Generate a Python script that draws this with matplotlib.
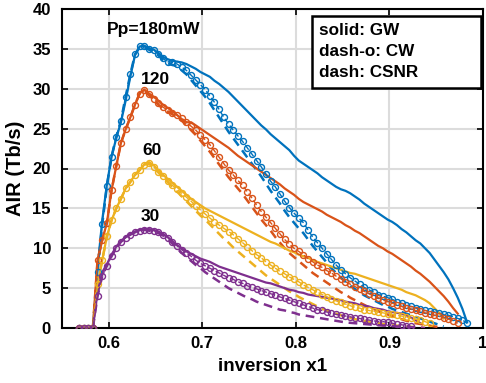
import numpy as np
import matplotlib
matplotlib.use("Agg")
import matplotlib.pyplot as plt
from matplotlib.patches import Rectangle

# common inversion grid (step 0.005)
x_start, x_step = 0.568, 0.005

gw_180 = [0, 0, 0, 0, 7.5, 13.5, 18.0, 21.5, 23.8, 25.8, 28.5, 31.5, 34.2, 35.3, 35.4, 35.1,
          34.9, 34.5, 34.0, 33.7, 33.5, 33.4, 33.3, 33.1, 32.8, 32.5, 32.1, 31.8, 31.5, 31.0,
          30.6, 30.1, 29.6, 29.0, 28.4, 27.8, 27.2, 26.6, 26.0, 25.4, 24.9, 24.3, 23.8, 23.3,
          22.8, 22.3, 21.6, 21.0, 20.6, 20.2, 19.8, 19.4, 18.9, 18.5, 18.1, 17.7, 17.4, 17.2,
          16.9, 16.5, 16.1, 15.6, 15.2, 14.8, 14.4, 14.0, 13.6, 13.3, 12.9, 12.4, 12.0, 11.5,
          11.0, 10.6, 10.0, 9.4, 8.6, 7.8, 7.0, 6.1, 5.0, 3.8, 2.4, 0.7]
cw_180 = [0, 0, 0, 0, 7.0, 13.0, 17.8, 21.5, 24.0, 26.0, 29.0, 31.8, 34.3, 35.3, 35.3, 35.0,
          34.8, 34.4, 33.8, 33.4, 33.3, 33.1, 32.7, 32.3, 31.7, 31.1, 30.5, 29.9, 29.1, 28.3,
          27.4, 26.4, 25.6, 24.8, 24.1, 23.4, 22.6, 21.8, 21.0, 20.2, 19.3, 18.4, 17.7, 16.8,
          15.9, 15.1, 14.4, 13.8, 13.2, 12.3, 11.4, 10.7, 10.0, 9.3, 8.6, 7.9, 7.3, 6.8,
          6.3, 5.9, 5.5, 5.1, 4.8, 4.5, 4.2, 4.0, 3.8, 3.6, 3.3, 3.1, 2.9, 2.7,
          2.5, 2.4, 2.2, 2.1, 2.0, 1.9, 1.7, 1.6, 1.4, 1.2, 1.0, 0.6]
csnr_180 = [0, 0, 0, 0, 7.0, 13.0, 17.8, 21.5, 24.0, 26.0, 29.0, 31.8, 34.3, 35.2, 35.2, 34.9,
            34.6, 34.2, 33.6, 33.2, 33.0, 32.8, 32.3, 31.8, 31.1, 30.4, 29.7, 29.0, 28.2, 27.3,
            26.4, 25.5, 24.6, 23.8, 23.0, 22.2, 21.4, 20.6, 19.8, 19.0, 18.1, 17.2, 16.4, 15.6,
            14.7, 13.9, 13.2, 12.5, 11.9, 11.1, 10.3, 9.6, 8.9, 8.2, 7.5, 6.9, 6.3, 5.8,
            5.3, 4.9, 4.5, 4.1, 3.8, 3.5, 3.2, 2.9, 2.7, 2.4, 2.2, 2.0, 1.8, 1.6,
            1.4, 1.2, 1.0, 0.8, 0.6, 0.4, 0.2]

gw_120 = [0, 0, 0, 0, 8.5, 11.0, 13.2, 17.3, 20.3, 23.2, 24.9, 26.4, 28.0, 29.4, 29.9, 29.4,
          29.0, 28.5, 28.0, 27.6, 27.2, 26.7, 26.2, 25.8, 25.8, 25.4, 25.0, 24.6, 24.2, 23.8,
          23.4, 23.0, 22.6, 22.1, 21.6, 21.2, 20.8, 20.4, 20.0, 19.6, 19.2, 18.8, 18.4, 18.0,
          17.5, 17.1, 16.7, 16.2, 15.8, 15.5, 15.2, 14.9, 14.6, 14.2, 13.9, 13.6, 13.3, 12.9,
          12.6, 12.2, 11.9, 11.5, 11.1, 10.7, 10.3, 10.0, 9.6, 9.3, 8.9, 8.5, 8.1, 7.7,
          7.2, 6.8, 6.3, 5.8, 5.2, 4.6, 4.0, 3.3, 2.5, 1.8]
cw_120 = [0, 0, 0, 0, 8.5, 11.0, 13.2, 17.3, 20.3, 23.2, 24.9, 26.4, 28.0, 29.4, 29.8, 29.3,
          28.7, 28.2, 27.7, 27.3, 27.0, 26.7, 26.3, 25.8, 25.3, 24.8, 24.2, 23.6, 23.0, 22.2,
          21.4, 20.6, 19.8, 19.2, 18.5, 17.9, 17.1, 16.3, 15.4, 14.6, 13.9, 13.2, 12.5, 11.8,
          11.1, 10.5, 10.0, 9.6, 9.2, 8.7, 8.3, 7.9, 7.6, 7.2, 6.9, 6.5, 6.2, 5.8,
          5.5, 5.2, 4.9, 4.6, 4.3, 4.0, 3.8, 3.5, 3.3, 3.1, 2.9, 2.7, 2.5, 2.4,
          2.2, 2.1, 1.9, 1.8, 1.6, 1.5, 1.3, 1.1, 0.9, 0.6]
csnr_120 = [0, 0, 0, 0, 8.5, 11.0, 13.2, 17.3, 20.3, 23.2, 24.9, 26.4, 28.0, 29.4, 29.7, 29.2,
            28.6, 28.0, 27.5, 27.1, 26.8, 26.4, 26.0, 25.4, 24.8, 24.2, 23.5, 22.8, 22.1, 21.3,
            20.5, 19.7, 18.9, 18.2, 17.5, 16.8, 16.0, 15.2, 14.4, 13.6, 12.9, 12.2, 11.4, 10.7,
            10.0, 9.4, 8.9, 8.4, 7.9, 7.4, 6.9, 6.5, 6.1, 5.7, 5.3, 4.9, 4.5, 4.2,
            3.8, 3.5, 3.2, 2.9, 2.6, 2.4, 2.1, 1.9, 1.7, 1.5, 1.3, 1.1, 0.9, 0.8,
            0.6, 0.5, 0.4, 0.3, 0.2, 0.1]

gw_60 = [0, 0, 0, 0, 5.5, 8.5, 11.5, 13.5, 15.0, 16.2, 17.5, 18.3, 19.2, 19.8, 20.5, 20.8,
         20.4, 19.8, 19.2, 18.7, 18.2, 17.7, 17.2, 16.7, 16.2, 15.8, 15.4, 15.0, 14.7, 14.4,
         14.1, 13.8, 13.5, 13.2, 12.9, 12.6, 12.3, 12.0, 11.7, 11.4, 11.1, 10.8, 10.6, 10.3,
         10.0, 9.7, 9.5, 9.2, 9.0, 8.8, 8.5, 8.3, 8.1, 7.9, 7.7, 7.5, 7.3, 7.1,
         6.9, 6.8, 6.6, 6.4, 6.2, 6.0, 5.8, 5.6, 5.4, 5.2, 5.0, 4.8, 4.5, 4.3,
         4.1, 3.8, 3.5, 3.1, 2.5, 1.9, 1.2]
cw_60 = [0, 0, 0, 0, 5.5, 8.5, 11.5, 13.5, 15.0, 16.2, 17.5, 18.3, 19.2, 19.8, 20.5, 20.7,
         20.2, 19.6, 19.0, 18.4, 17.9, 17.4, 16.9, 16.4, 15.9, 15.3, 14.8, 14.3, 13.8, 13.3,
         12.9, 12.5, 12.1, 11.7, 11.2, 10.7, 10.2, 9.7, 9.2, 8.8, 8.3, 7.9, 7.5, 7.1,
         6.8, 6.4, 6.1, 5.8, 5.4, 5.1, 4.8, 4.5, 4.2, 3.9, 3.6, 3.4, 3.2, 3.0,
         2.8, 2.6, 2.5, 2.3, 2.2, 2.1, 2.0, 1.9, 1.8, 1.7, 1.6, 1.5, 1.4, 1.2,
         1.1, 1.0, 0.8, 0.6]
csnr_60 = [0, 0, 0, 0, 5.5, 8.5, 11.5, 13.5, 15.0, 16.2, 17.5, 18.3, 19.2, 19.8, 20.5, 20.6,
           20.1, 19.5, 18.9, 18.3, 17.7, 17.1, 16.5, 15.9, 15.3, 14.7, 14.1, 13.6, 13.0, 12.4,
           11.8, 11.2, 10.7, 10.1, 9.6, 9.1, 8.6, 8.1, 7.6, 7.1, 6.6, 6.2, 5.8, 5.4,
           5.0, 4.6, 4.3, 3.9, 3.6, 3.3, 3.0, 2.7, 2.4, 2.2, 2.0, 1.8, 1.6, 1.4,
           1.3, 1.1, 1.0, 0.9, 0.8, 0.7, 0.6, 0.5, 0.4, 0.35, 0.3, 0.25, 0.2, 0.15,
           0.1, 0.05, 0.0]

gw_30 = [0, 0, 0, 0, 4.5, 7.0, 8.0, 9.2, 10.2, 10.9, 11.4, 11.8, 12.1, 12.3, 12.4, 12.4,
         12.3, 12.1, 11.8, 11.4, 10.9, 10.4, 10.0, 9.6, 9.3, 9.0, 8.7, 8.5, 8.3, 8.0,
         7.7, 7.5, 7.3, 7.1, 6.9, 6.7, 6.5, 6.3, 6.1, 5.9, 5.7, 5.6, 5.4, 5.2,
         5.0, 4.8, 4.7, 4.5, 4.4, 4.2, 4.1, 4.0, 3.9, 3.8, 3.7, 3.6, 3.5, 3.3,
         3.2, 3.1, 2.9, 2.8, 2.7, 2.5, 2.4, 2.3, 2.1, 2.0, 1.9, 1.8, 1.6, 1.3,
         1.0, 0.6]
cw_30 = [0, 0, 0, 0, 4.0, 6.5, 7.8, 9.0, 10.0, 10.8, 11.3, 11.7, 12.0, 12.2, 12.3, 12.3,
         12.2, 12.0, 11.7, 11.3, 10.8, 10.3, 9.8, 9.4, 9.0, 8.5, 8.1, 7.8, 7.5, 7.2,
         6.9, 6.6, 6.3, 6.1, 5.8, 5.6, 5.3, 5.1, 4.9, 4.7, 4.5, 4.3, 4.1, 3.9,
         3.7, 3.5, 3.3, 3.1, 2.9, 2.7, 2.5, 2.3, 2.2, 2.0, 1.9, 1.7, 1.6, 1.5,
         1.4, 1.3, 1.2, 1.1, 1.0, 0.9, 0.8, 0.8, 0.7, 0.6, 0.5, 0.4, 0.3, 0.2]
csnr_30 = [0, 0, 0, 0, 4.0, 6.5, 7.8, 9.0, 10.0, 10.8, 11.3, 11.7, 12.0, 12.2, 12.3, 12.2,
           12.1, 11.9, 11.6, 11.1, 10.6, 10.0, 9.4, 8.9, 8.4, 7.9, 7.5, 7.0, 6.6, 6.2,
           5.8, 5.4, 5.0, 4.7, 4.4, 4.1, 3.8, 3.6, 3.3, 3.1, 2.9, 2.7, 2.5, 2.3,
           2.2, 2.0, 1.9, 1.7, 1.6, 1.5, 1.4, 1.3, 1.2, 1.1, 1.0, 0.9, 0.8, 0.7,
           0.65, 0.6, 0.55, 0.5, 0.45, 0.4, 0.35, 0.3, 0.3, 0.25, 0.2, 0.2, 0.15, 0.1,
           0.1, 0.05, 0.0]

colors = ["#0072BD", "#D95319", "#EDB120", "#7E2F8E"]
gw = [gw_180, gw_120, gw_60, gw_30]
cw = [cw_180, cw_120, cw_60, cw_30]
csnr = [csnr_180, csnr_120, csnr_60, csnr_30]
labels = ["Pp=180mW", "120", "60", "30"]
label_pos = [(0.6475, 37.4), (0.650, 31.1), (0.6465, 22.3), (0.644, 14.0)]
legend_lines = ["solid: GW", "dash-o: CW", "dash: CSNR"]


def xgrid(n):
    return x_start + x_step * np.arange(n)


plt.rcParams['font.family'] = ['Liberation Sans', 'DejaVu Sans']
plt.rcParams['font.weight'] = 'bold'

fig = plt.figure(figsize=(4.86, 3.83), dpi=100)
ax = fig.add_axes([62 / 486, 55 / 383, 421 / 486, 319 / 383])

for c, g, w, s in zip(colors, gw, cw, csnr):
    ax.plot(xgrid(len(g)), g, '-', color=c, lw=1.6, zorder=3)
    ax.plot(xgrid(len(w)), w, '--', color=c, lw=1.0, marker='o', ms=4.3,
            mfc='none', mew=1.0, dashes=(4, 2), zorder=4)
    ax.plot(xgrid(len(s)), s, '--', color=c, lw=1.8, dashes=(3.5, 2.3), zorder=3)

for t, (tx, ty) in zip(labels, label_pos):
    ax.text(tx, ty, t, ha='center', va='center', fontsize=12.5, fontweight='bold', zorder=6)

ax.set_xlim(0.55, 1.0)
ax.set_ylim(0, 40)
ax.set_xticks([0.6, 0.7, 0.8, 0.9, 1.0])
ax.set_xticklabels(["0.6", "0.7", "0.8", "0.9", "1"])
ax.set_yticks(np.arange(0, 41, 5))
ax.grid(True, color='#dcdcdc', lw=1.5, zorder=0)
ax.set_axisbelow(True)
ax.tick_params(direction='in', top=True, right=True, length=4, width=1.2, labelsize=12)
ax.tick_params(axis='x', pad=6)
ax.tick_params(axis='y', pad=8)
for lab in ax.get_xticklabels() + ax.get_yticklabels():
    lab.set_fontweight('bold')
for sp in ax.spines.values():
    sp.set_linewidth(1.5)
ax.set_xlabel("inversion x1", fontsize=13.5, fontweight='bold', labelpad=5)
ax.set_ylabel("AIR (Tb/s)", fontsize=14.5, fontweight='bold', labelpad=5)

ax.add_patch(Rectangle((0.595, 0.752), 0.40, 0.226, transform=ax.transAxes,
                       fc='white', ec='black', lw=1.8, zorder=7))
for i, t in enumerate(legend_lines):
    ax.text(0.611, 0.934 - i * 0.066, t, transform=ax.transAxes, ha='left', va='center',
            fontsize=12.3, fontweight='bold', zorder=8)

fig.savefig("out.png", dpi=100)
